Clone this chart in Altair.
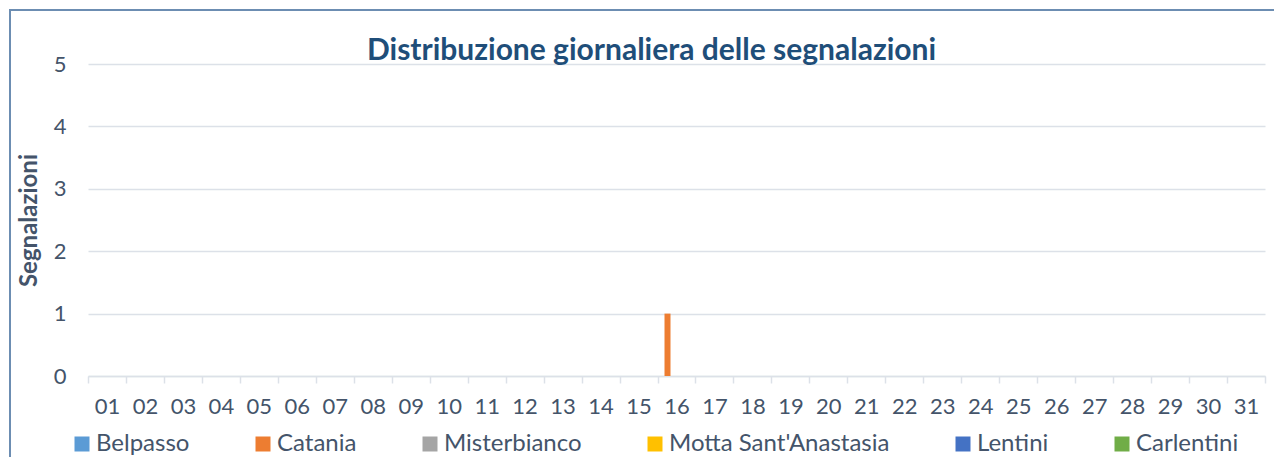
import altair as alt
import pandas as pd

title_text = "Distribuzione giornaliera delle segnalazioni"
y_title = "Segnalazioni"

days = ["01", "02", "03", "04", "05", "06", "07", "08", "09", "10",
        "11", "12", "13", "14", "15", "16", "17", "18", "19", "20",
        "21", "22", "23", "24", "25", "26", "27", "28", "29", "30", "31"]

series = ["Belpasso", "Catania", "Misterbianco", "Motta Sant'Anastasia", "Lentini", "Carlentini"]

belpasso     = [0, 0, 0, 0, 0, 0, 0, 0, 0, 0, 0, 0, 0, 0, 0, 0, 0, 0, 0, 0, 0, 0, 0, 0, 0, 0, 0, 0, 0, 0, 0]
catania      = [0, 0, 0, 0, 0, 0, 0, 0, 0, 0, 0, 0, 0, 0, 0, 1, 0, 0, 0, 0, 0, 0, 0, 0, 0, 0, 0, 0, 0, 0, 0]
misterbianco = [0, 0, 0, 0, 0, 0, 0, 0, 0, 0, 0, 0, 0, 0, 0, 0, 0, 0, 0, 0, 0, 0, 0, 0, 0, 0, 0, 0, 0, 0, 0]
motta        = [0, 0, 0, 0, 0, 0, 0, 0, 0, 0, 0, 0, 0, 0, 0, 0, 0, 0, 0, 0, 0, 0, 0, 0, 0, 0, 0, 0, 0, 0, 0]
lentini      = [0, 0, 0, 0, 0, 0, 0, 0, 0, 0, 0, 0, 0, 0, 0, 0, 0, 0, 0, 0, 0, 0, 0, 0, 0, 0, 0, 0, 0, 0, 0]
carlentini   = [0, 0, 0, 0, 0, 0, 0, 0, 0, 0, 0, 0, 0, 0, 0, 0, 0, 0, 0, 0, 0, 0, 0, 0, 0, 0, 0, 0, 0, 0, 0]

colors = ["#5B9BD5", "#ED7D31", "#A5A5A5", "#FFC000", "#4472C4", "#70AD47"]
y_ticks = [0, 1, 2, 3, 4, 5]

rows = []
for name, vals in zip(series, [belpasso, catania, misterbianco, motta, lentini, carlentini]):
    for d, v in zip(days, vals):
        rows.append({"giorno": d, "comune": name, "segnalazioni": v})
df = pd.DataFrame(rows)

FONT = "Lato"
TXT = "#44546A"
GRID = "#DCE1E8"

bars = alt.Chart(df).mark_bar().encode(
    x=alt.X("giorno:N", sort=days,
            scale=alt.Scale(paddingInner=0, paddingOuter=0),
            axis=alt.Axis(title=None, labelAngle=0, tickBand="extent", grid=False,
                          labelFont=FONT, labelFontSize=22, labelColor=TXT, labelPadding=13,
                          tickColor=GRID, tickSize=7, tickWidth=1.5,
                          domainColor=GRID, domainWidth=1.5)),
    xOffset=alt.XOffset("comune:N", sort=series,
                        scale=alt.Scale(paddingInner=0, paddingOuter=0.164)),
    y=alt.Y("segnalazioni:Q",
            scale=alt.Scale(domain=[0, 5], nice=False),
            axis=alt.Axis(values=y_ticks, title=y_title, grid=True,
                          gridColor=GRID, gridWidth=1.5, domain=False, ticks=False,
                          labelFont=FONT, labelFontSize=22, labelColor=TXT, labelPadding=22,
                          titleFont=FONT, titleFontSize=24, titleFontWeight="bold",
                          titleColor=TXT, titleX=-52, titleY=156,
                          titleBaseline="alphabetic", titleAlign="center", titleAngle=270)),
    color=alt.Color("comune:N", sort=series,
                    scale=alt.Scale(domain=series, range=colors),
                    legend=alt.Legend(title=None, orient="none", legendX=-18, legendY=368,
                                      direction="horizontal", columns=6,
                                      symbolType="square", symbolSize=225,
                                      symbolStrokeWidth=0, symbolOpacity=1,
                                      labelFont=FONT, labelFontSize=24, labelColor=TXT,
                                      labelLimit=500, labelOffset=2, columnPadding=61)),
)

frame = alt.Chart(alt.Data(values=[{"k": 1}])).mark_rect(
    filled=False, stroke="#6C8DB2", strokeWidth=2
).encode(x=alt.value(-78), x2=alt.value(1400), y=alt.value(-54), y2=alt.value(600))

title = alt.Chart(alt.Data(values=[{"t": title_text}])).mark_text(
    font=FONT, fontSize=30, fontWeight="bold", color="#1F4E79",
    align="center", baseline="alphabetic"
).encode(x=alt.value(563.5), y=alt.value(-4), text="t:N")

chart = alt.layer(frame, bars, title).properties(
    width=1177,
    height=312,
    padding={"left": 80, "top": 56, "right": 9, "bottom": 81},
    autosize=alt.AutoSizeParams(type="none"),
).configure_view(stroke=None)

chart.save("out.html", embed_options={"renderer": "svg", "actions": False})
